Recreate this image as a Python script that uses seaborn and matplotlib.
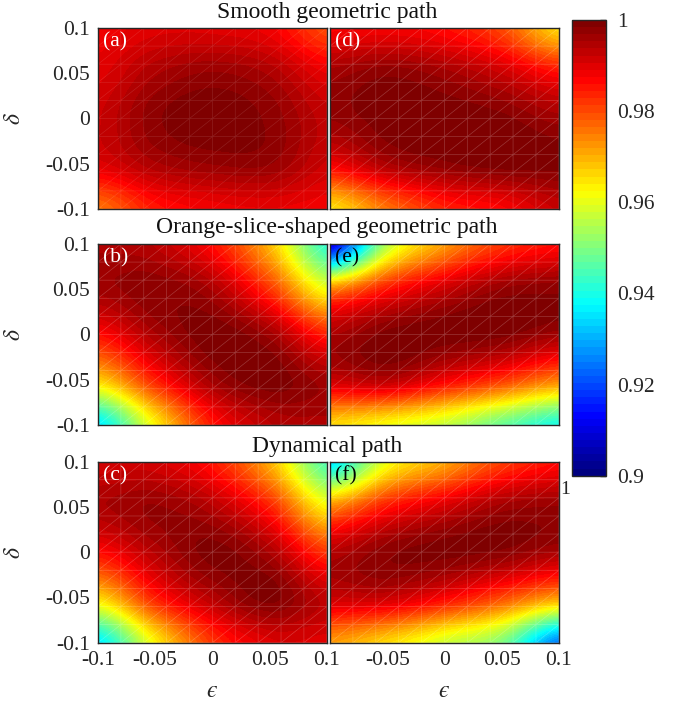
import numpy as np
import matplotlib
matplotlib.use('Agg')
import matplotlib.pyplot as plt
import matplotlib.tri as mtri
from matplotlib.colors import LinearSegmentedColormap
import seaborn as sns

## grid of the data (epsilon along columns, delta along rows, top row = +0.1)
eps = [-0.1, -0.05, 0.0, 0.05, 0.1]
delta = [0.1, 0.05, 0.0, -0.05, -0.1]

## fidelity
fid_a = [[0.988, 0.990, 0.990, 0.988, 0.980],
         [0.990, 0.995, 0.997, 0.995, 0.989],
         [0.992, 0.998, 0.9998, 0.998, 0.993],
         [0.990, 0.995, 0.997, 0.997, 0.992],
         [0.976, 0.985, 0.988, 0.989, 0.988]]
fid_d = [[0.987, 0.988, 0.986, 0.980, 0.966],
         [0.996, 0.998, 0.996, 0.992, 0.986],
         [0.997, 0.9995, 0.9998, 0.999, 0.996],
         [0.988, 0.995, 0.998, 0.9995, 0.999],
         [0.965, 0.976, 0.984, 0.987, 0.9925]]
fid_b = [[0.995, 0.9935, 0.986, 0.969, 0.942],
         [0.996, 0.998, 0.995, 0.982, 0.961],
         [0.986, 0.995, 0.9995, 0.996, 0.984],
         [0.967, 0.984, 0.996, 0.9995, 0.996],
         [0.936, 0.963, 0.985, 0.9935, 0.995]]
fid_e = [[0.910, 0.955, 0.972, 0.982, 0.986],
         [0.974, 0.985, 0.992, 0.997, 0.998],
         [0.995, 0.999, 0.9995, 0.999, 0.996],
         [0.992, 0.994, 0.988, 0.982, 0.975],
         [0.966, 0.962, 0.957, 0.948, 0.940]]
fid_c = [[0.991, 0.991, 0.985, 0.970, 0.945],
         [0.995, 0.997, 0.994, 0.984, 0.963],
         [0.986, 0.994, 0.999, 0.995, 0.982],
         [0.966, 0.984, 0.994, 0.999, 0.993],
         [0.936, 0.963, 0.982, 0.990, 0.990]]
fid_f = [[0.935, 0.961, 0.971, 0.981, 0.986],
         [0.974, 0.985, 0.991, 0.996, 0.997],
         [0.994, 0.998, 0.999, 0.998, 0.995],
         [0.992, 0.992, 0.987, 0.980, 0.972],
         [0.972, 0.966, 0.958, 0.950, 0.925]]

titles = ['Smooth geometric path', 'Orange-slice-shaped geometric path', 'Dynamical path']
panel_names = ['(a)', '(d)', '(b)', '(e)', '(c)', '(f)']
tick_vals = [-0.1, -0.05, 0, 0.05, 0.1]
tick_text = ['-0.1', '-0.05', '0', '0.05', '0.1']
cbar_vals = [0.9, 0.92, 0.94, 0.96, 0.98, 1.0]
cbar_text = ['0.9', '0.92', '0.94', '0.96', '0.98', '1']

sns.set_theme(style='white')
plt.rcParams['font.family'] = ['Liberation Serif', 'DejaVu Serif']
plt.rcParams['mathtext.fontset'] = 'stix'
plt.rcParams['axes.unicode_minus'] = False

## MATLAB style jet with 64 steps
jet_m = {'red': [(0, 0, 0), (3/8, 0, 0), (5/8, 1, 1), (7/8, 1, 1), (1, 0.5, 0.5)],
         'green': [(0, 0, 0), (1/8, 0, 0), (3/8, 1, 1), (5/8, 1, 1), (7/8, 0, 0), (1, 0, 0)],
         'blue': [(0, 0.5, 0.5), (1/8, 1, 1), (3/8, 1, 1), (5/8, 0, 0), (1, 0, 0)]}
cmap = LinearSegmentedColormap('jet_m', jet_m, N=64)


def make_tri(xs, ys):
    ## regular grid, each cell split along the bottom-left -> top-right diagonal
    X, Y = np.meshgrid(xs, ys)
    n = len(xs)
    m = len(ys)
    tris = []
    for j in range(m - 1):
        for i in range(n - 1):
            k = j * n + i
            tris.append([k, k + 1, k + n + 1])
            tris.append([k, k + n + 1, k + n])
    return mtri.Triangulation(X.ravel(), Y.ravel(), np.array(tris))


mesh_lines = np.linspace(-0.1, 0.1, 11)
mesh = make_tri(mesh_lines, mesh_lines)
half = (eps[1] - eps[0]) / 2

fig = plt.figure(figsize=(6.9, 7.07), dpi=100)
lefts = [0.142, 0.4783]
bottoms = [0.7044, 0.3989, 0.0910]
w, h = 0.3316, 0.2560

data = [fid_a, fid_d, fid_b, fid_e, fid_c, fid_f]
label_colors = ['white', 'white', 'white', 'black', 'white', 'black']
mesh_alpha = [0.12, 0.22, 0.22, 0.22, 0.22, 0.22]

im = None
for idx, z in enumerate(data):
    r, c = divmod(idx, 2)
    ax = fig.add_axes([lefts[c], bottoms[r], w, h])
    im = ax.imshow(np.array(z), cmap=cmap, vmin=0.9, vmax=1.0, origin='upper',
                   interpolation='catrom', interpolation_stage='data', aspect='auto',
                   extent=[eps[0] - half, eps[-1] + half, delta[-1] - half, delta[0] + half])
    ax.triplot(mesh, color='white', lw=0.5, alpha=mesh_alpha[idx])
    ax.set_xlim(-0.1, 0.1)
    ax.set_ylim(-0.1, 0.1)
    ax.tick_params(length=0, labelsize=15.5, colors='#262626', pad=6)
    if r == 2:
        if c == 0:
            ax.set_xticks(tick_vals, tick_text)
        else:
            ax.set_xticks(tick_vals[1:], tick_text[1:])
        ax.set_xlabel('$\u03f5$', fontsize=17, labelpad=8)
    else:
        ax.set_xticks([])
    if c == 0:
        ax.set_yticks(tick_vals, tick_text)
        ax.set_ylabel(r'$\delta$', fontsize=17, labelpad=14)
    else:
        ax.set_yticks([])
    for s in ax.spines.values():
        s.set_color('#262626')
        s.set_linewidth(1.0)
    ax.text(0.02, 0.975, panel_names[idx], transform=ax.transAxes, ha='left', va='top',
            fontsize=15.5, color=label_colors[idx])

## row titles
title_y = [0.983, 0.678, 0.369]
for t, y in zip(titles, title_y):
    fig.text(0.474, y, t, ha='center', va='center', fontsize=17, color='#111111')

## colorbar
cax = fig.add_axes([0.8294, 0.3272, 0.0488, 0.6446])
cb = fig.colorbar(im, cax=cax, boundaries=np.linspace(0.9, 1.0, 65))
cb.set_ticks(cbar_vals, labels=cbar_text)
cax.tick_params(direction='in', length=4, width=1, colors='#262626', labelsize=15.5, pad=8)
cb.outline.set_edgecolor('#262626')
cb.outline.set_linewidth(1.0)
fig.text(0.819, 0.307, '1', fontsize=14, color='#262626', ha='center', va='center')

fig.savefig('out.png', dpi=100)
